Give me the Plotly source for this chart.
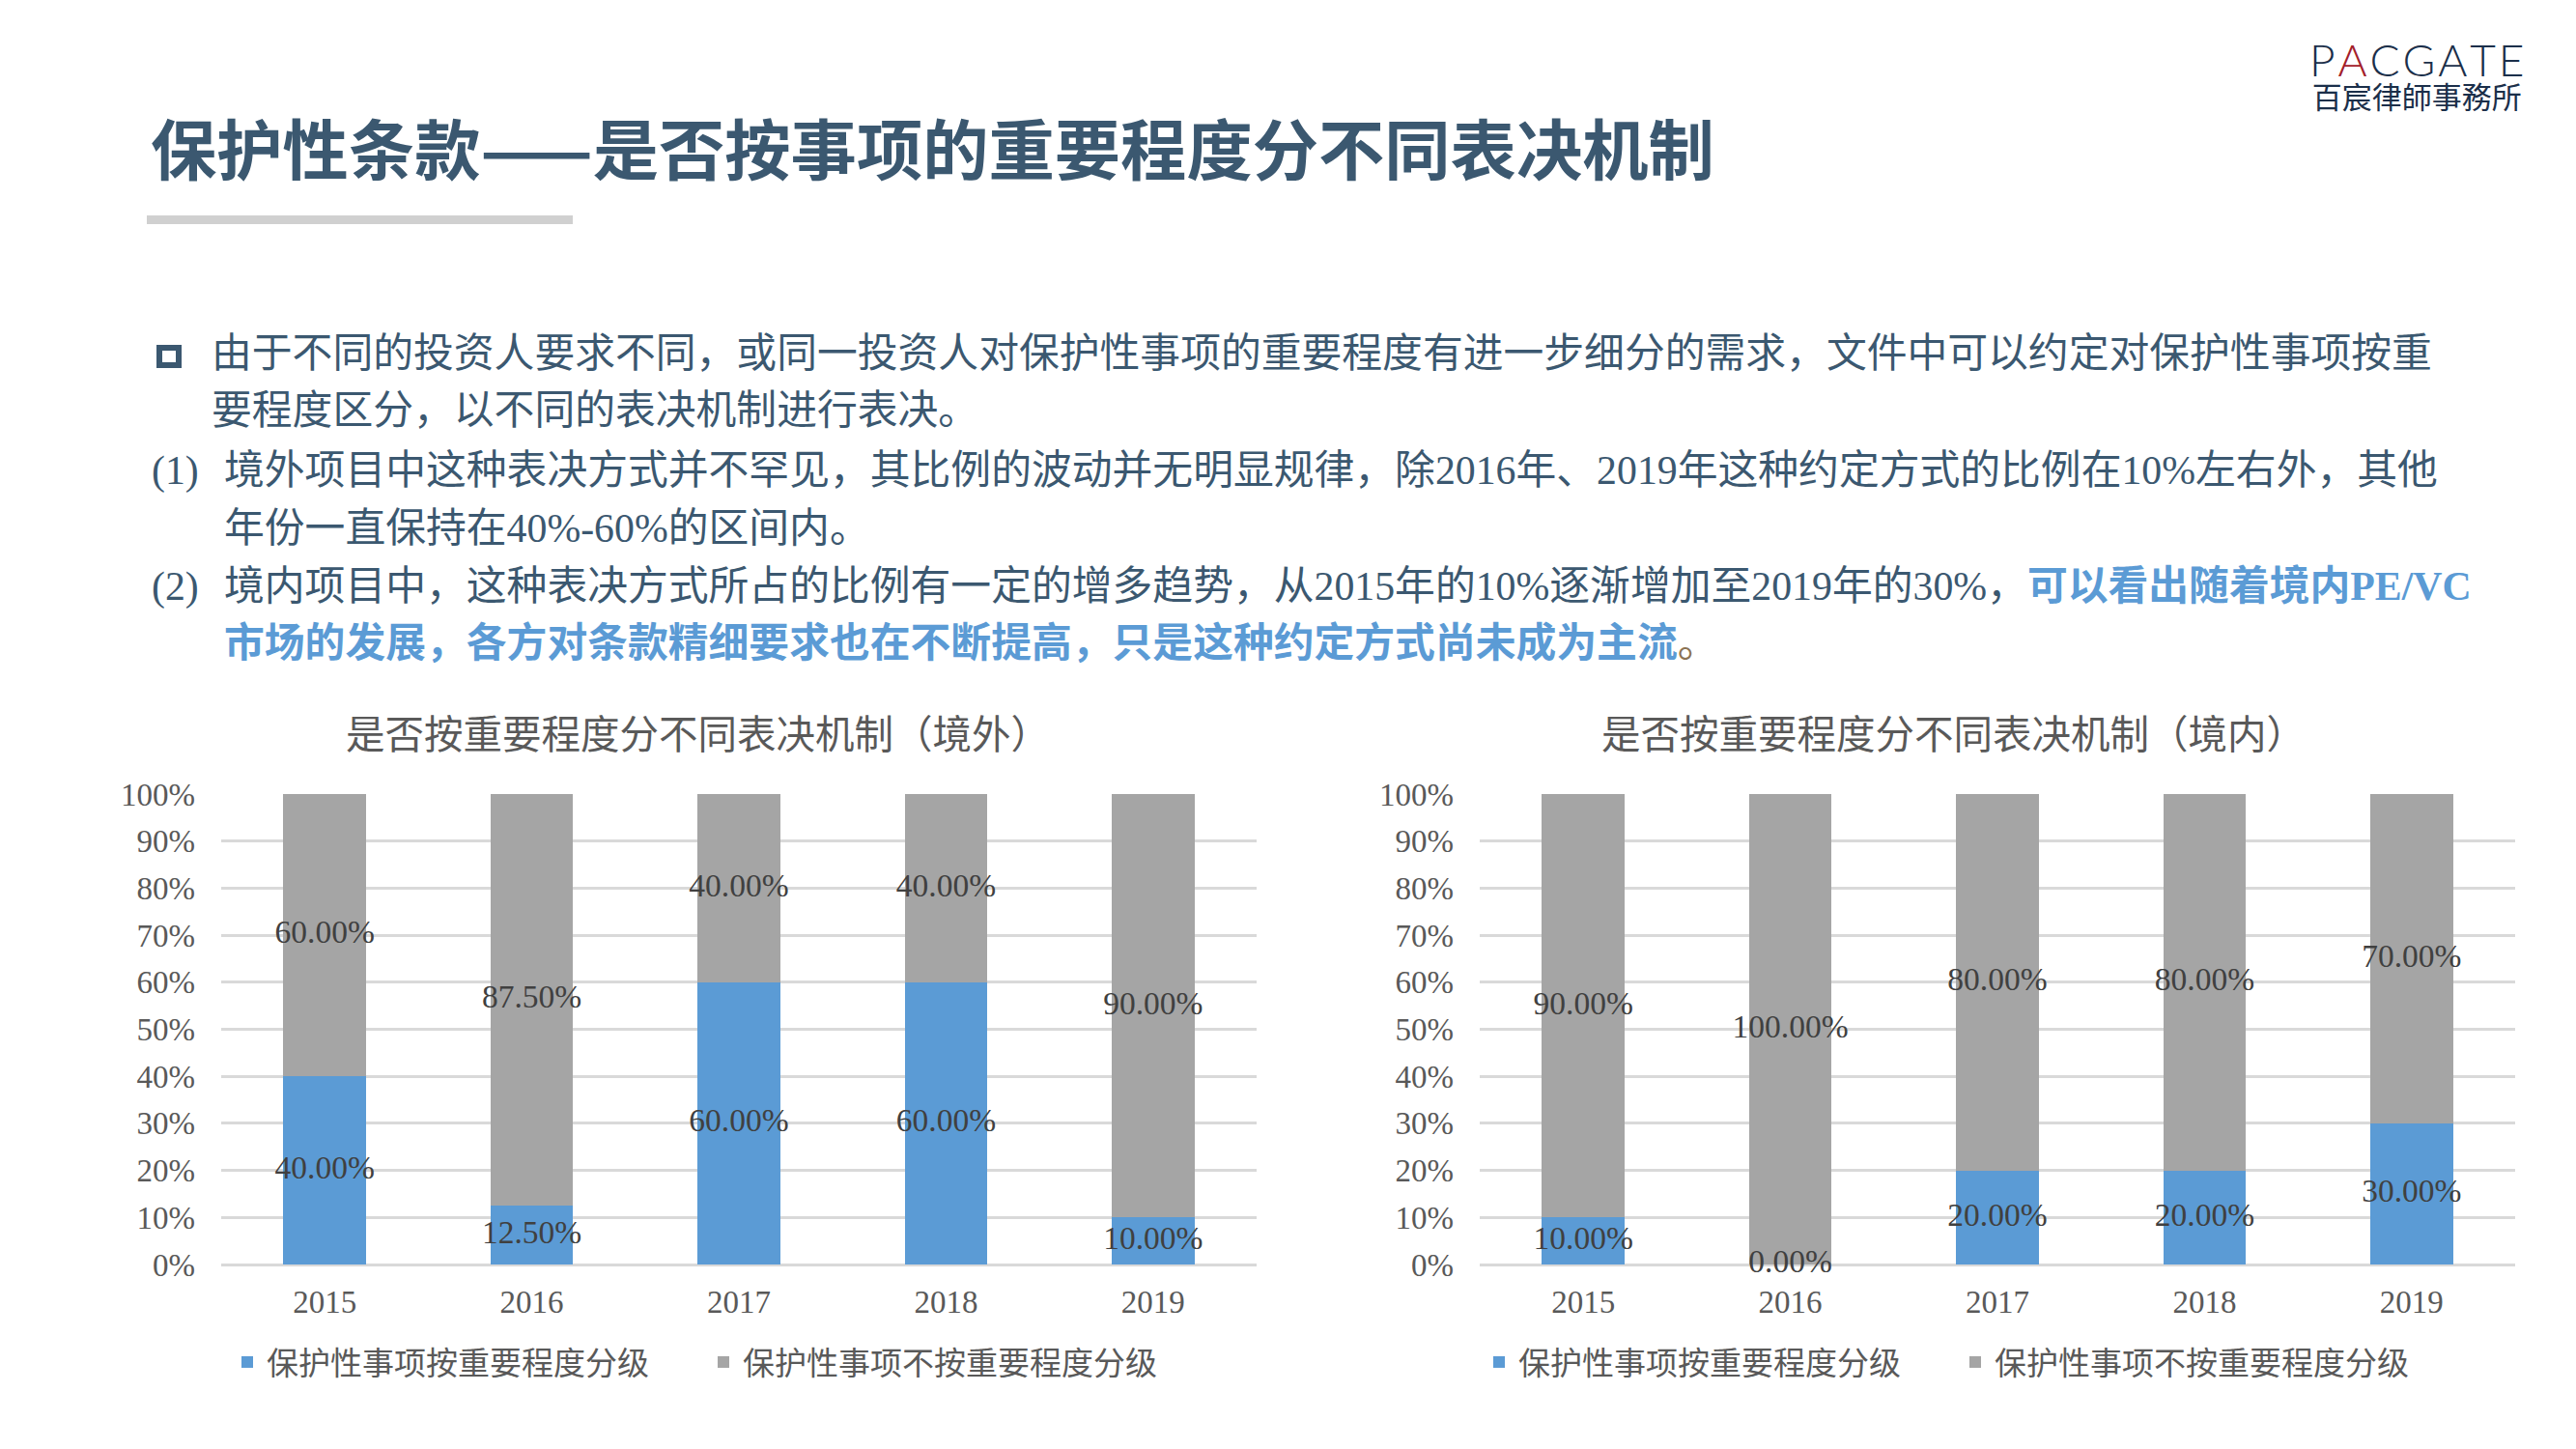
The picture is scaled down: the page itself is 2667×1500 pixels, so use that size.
import plotly.graph_objects as go

# ---------------- data ----------------
years = ["2015", "2016", "2017", "2018", "2019"]
abroad_graded = [40.0, 12.5, 60.0, 60.0, 10.0]
abroad_not_graded = [60.0, 87.5, 40.0, 40.0, 90.0]
domestic_graded = [10.0, 0.0, 20.0, 20.0, 30.0]
domestic_not_graded = [90.0, 100.0, 80.0, 80.0, 70.0]
y_tick_values = [0, 10, 20, 30, 40, 50, 60, 70, 80, 90, 100]
y_tick_labels = ["0%", "10%", "20%", "30%", "40%", "50%", "60%", "70%", "80%", "90%", "100%"]
series_names = ["保护性事项按重要程度分级", "保护性事项不按重要程度分级"]
chart_titles = ["是否按重要程度分不同表决机制（境外）", "是否按重要程度分不同表决机制（境内）"]

page_title = "保护性条款——是否按事项的重要程度分不同表决机制"
logo_name = "PACGATE"
logo_firm = "百宸律師事務所"
body_lines = [
    "由于不同的投资人要求不同，或同一投资人对保护性事项的重要程度有进一步细分的需求，文件中可以约定对保护性事项按重",
    "要程度区分，以不同的表决机制进行表决。",
    "境外项目中这种表决方式并不罕见，其比例的波动并无明显规律，除2016年、2019年这种约定方式的比例在10%左右外，其他",
    "年份一直保持在40%-60%的区间内。",
    "境内项目中，这种表决方式所占的比例有一定的增多趋势，从2015年的10%逐渐增加至2019年的30%，",
    "可以看出随着境内PE/VC",
    "市场的发展，各方对条款精细要求也在不断提高，只是这种约定方式尚未成为主流",
]

# ---------------- style ----------------
W, H = 2667, 1500
BLUE = "#5b9bd5"
GRAY = "#a5a5a5"
GRID = "#d9d9d9"
TEXT = "#3b5870"
AXIS_TXT = "#595959"
LABEL_TXT = "#404040"
SERIF = "Liberation Serif, Noto Sans CJK SC"
CJK = "Noto Sans CJK SC"
MIX = "Liberation Serif, Noto Sans CJK SC"
BODY_SIZE = 41.8


def fx(x):
    return x / W


def fy(y):
    return 1 - y / H


fig = go.Figure()

panels = [
    (abroad_graded, abroad_not_graded, "x", "y", "legend"),
    (domestic_graded, domestic_not_graded, "x2", "y2", "legend2"),
]
for graded, not_graded, xa, ya, lg in panels:
    fig.add_trace(go.Bar(x=years, y=graded, name=series_names[0], marker_color=BLUE,
                         marker_line_width=0, width=0.4, xaxis=xa, yaxis=ya, legend=lg,
                         hoverinfo="skip"))
    fig.add_trace(go.Bar(x=years, y=not_graded, name=series_names[1], marker_color=GRAY,
                         marker_line_width=0, width=0.4, xaxis=xa, yaxis=ya, legend=lg,
                         hoverinfo="skip"))
    fig.add_trace(go.Scatter(x=years, y=[v / 2 for v in graded],
                             text=[f"{v:.2f}%" for v in graded], mode="text",
                             textposition="middle center",
                             textfont=dict(family=SERIF, size=33.5, color=LABEL_TXT),
                             cliponaxis=False, showlegend=False, hoverinfo="skip",
                             xaxis=xa, yaxis=ya))
    fig.add_trace(go.Scatter(x=years, y=[a + b / 2 for a, b in zip(graded, not_graded)],
                             text=[f"{v:.2f}%" for v in not_graded], mode="text",
                             textposition="middle center",
                             textfont=dict(family=SERIF, size=33.5, color=LABEL_TXT),
                             cliponaxis=False, showlegend=False, hoverinfo="skip",
                             xaxis=xa, yaxis=ya))

xaxis_common = dict(type="category", showgrid=False, showline=False, zeroline=False,
                    ticks="", tickfont=dict(family=SERIF, size=33, color=AXIS_TXT),
                    ticklabelstandoff=16, fixedrange=True, automargin=False)
yaxis_common = dict(range=[0, 100], tickmode="array", tickvals=y_tick_values,
                    ticktext=y_tick_labels, showgrid=True, gridcolor=GRID, gridwidth=3,
                    zeroline=True, zerolinecolor=GRID, zerolinewidth=3, showline=False,
                    ticks="", tickfont=dict(family=SERIF, size=33, color=AXIS_TXT),
                    ticklabelstandoff=26, fixedrange=True, automargin=False)

legend_common = dict(orientation="h", xanchor="left", yanchor="middle", y=fy(1410),
                     font=dict(family=CJK, size=33, color=AXIS_TXT),
                     bgcolor="rgba(0,0,0,0)", traceorder="normal",
                     entrywidthmode="pixels", entrywidth=448, itemclick=False,
                     itemdoubleclick=False)

fig.update_layout(
    width=W, height=H,
    margin=dict(l=0, r=0, t=0, b=0, autoexpand=False),
    paper_bgcolor="white", plot_bgcolor="white",
    barmode="stack", bargap=0.6,
    xaxis=dict(domain=[fx(229), fx(1301)], anchor="y", **xaxis_common),
    yaxis=dict(domain=[fy(1309), fy(822)], anchor="x", **yaxis_common),
    xaxis2=dict(domain=[fx(1532), fx(2604)], anchor="y2", **xaxis_common),
    yaxis2=dict(domain=[fy(1309), fy(822)], anchor="x2", **yaxis_common),
    legend=dict(x=fx(236), **legend_common),
    legend2=dict(x=fx(1532), **legend_common),
    showlegend=True,
)

annotations = []


def add_text(text, x, y, size, color=TEXT, family=MIX, xanchor="left", weight=None,
             align="left"):
    font = dict(family=family, size=size, color=color)
    if weight is not None:
        font["weight"] = weight
    annotations.append(dict(text=text, x=fx(x), y=fy(y), xref="paper", yref="paper",
                            xanchor=xanchor, yanchor="middle", showarrow=False,
                            font=font, align=align))


# page title
add_text(f"<b>{page_title}</b>", 154, 151, 68.3, family=CJK)

# logo (single two-line text block)
HS = "\u200a"
logo_letters = [f"<span style='color:#a3202a'>{c}</span>" if i == 1 else c
                for i, c in enumerate(logo_name)]
logo_line1 = f"<span style='font-size:46px;font-weight:300'>{HS.join(logo_letters)}</span>"
logo_line2 = (f"<span style='font-size:31px;font-weight:400;"
              f"font-family:Noto Sans CJK TC'>{logo_firm}</span>")
add_text(logo_line1 + "<br>" + logo_line2, 2502, 77, 25, color="#1b2f4a",
         family="Lato", xanchor="center", align="center")

# body paragraph
add_text(body_lines[0], 217, 366, BODY_SIZE)
add_text(body_lines[1], 217, 425, BODY_SIZE)
add_text("(1)", 155, 487, BODY_SIZE)
add_text(body_lines[2], 230, 487, BODY_SIZE)
add_text(body_lines[3], 230, 547, BODY_SIZE)
add_text("(2)", 155, 607, BODY_SIZE)
add_text(body_lines[4] + f"<span style='color:{BLUE}'><b>{body_lines[5]}</b></span>",
         230, 607, BODY_SIZE)
add_text(f"<span style='color:{BLUE}'><b>{body_lines[6]}</b></span>"
         "<span style='color:#8c7353'>。</span>", 230, 666, BODY_SIZE)

# chart titles
add_text(chart_titles[0], 722, 757, 40.5, color=AXIS_TXT, family=CJK, xanchor="center")
add_text(chart_titles[1], 2022, 757, 40.5, color=AXIS_TXT, family=CJK, xanchor="center")

fig.update_layout(annotations=annotations)

# decorative shapes: title underline & bullet square
fig.update_layout(shapes=[
    dict(type="rect", xref="paper", yref="paper", x0=fx(152), x1=fx(593),
         y0=fy(232), y1=fy(223), fillcolor="#d0d0d0", line=dict(width=0), layer="below"),
    dict(type="rect", xref="paper", yref="paper", x0=fx(165), x1=fx(185),
         y0=fy(378), y1=fy(360), fillcolor="rgba(0,0,0,0)",
         line=dict(width=6, color=TEXT)),
])

fig.write_html("out.html", config={"displayModeBar": False},
               post_script="document.body.style.margin='0';"
                           "document.body.style.overflow='hidden';")
